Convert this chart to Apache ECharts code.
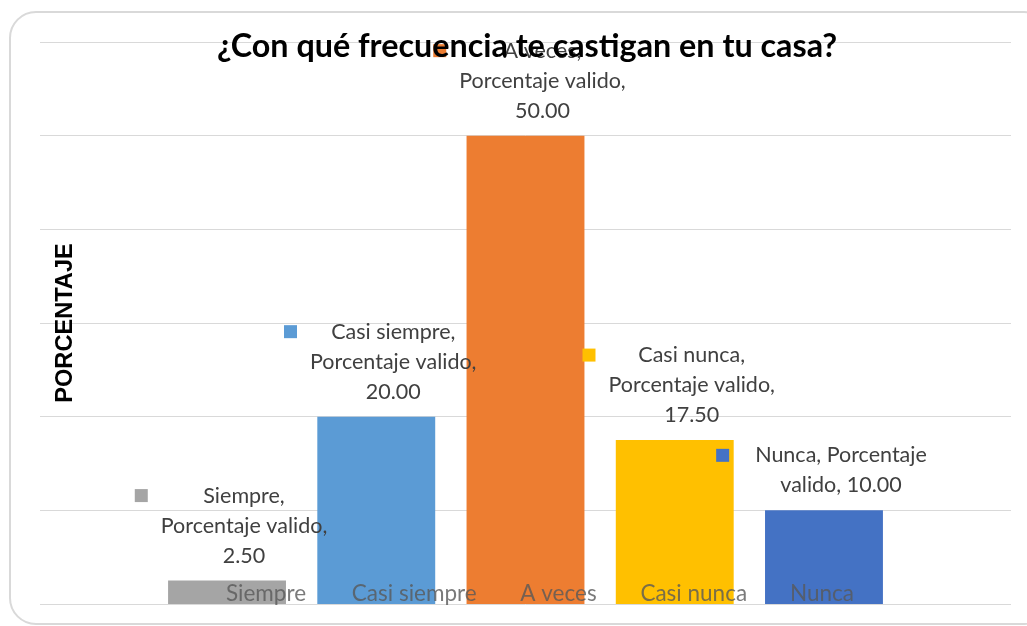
<!DOCTYPE html>
<html>
<head>
<meta charset="utf-8">
<script src="https://cdn.jsdelivr.net/npm/echarts@6/dist/echarts.min.js"></script>
<style>
  html, body { margin: 0; padding: 0; background: #fff; }
  #main { width: 1027px; height: 626px; }
</style>
</head>
<body>
<div id="main"></div>
<script>
const titleText = '¿Con qué frecuencia te castigan en tu casa?';
const yName = 'PORCENTAJE';
const seriesName = 'Porcentaje valido';
const categories = ['Siempre', 'Casi siempre', 'A veces', 'Casi nunca', 'Nunca'];
const percentValid = [2.5, 20, 50, 17.5, 10];
const yMin = 0, yMax = 60, yStep = 10;

// Office palette, one colour per bar
const barColors = ['#A5A5A5', '#5B9BD5', '#ED7D31', '#FFC000', '#4472C4'];
// Excel put the category names off-centre; horizontal shift in px
const catLabelShift = [39, 38, 33, 19, -2];

const font = 'Lato';
const chart = echarts.init(document.getElementById('main'));

const rich = {
  t: { align: 'center', padding: [0, 26], lineHeight: 30, fontSize: 21.5, fontFamily: font, color: '#404040' },
  sp: { align: 'right', width: 13, height: 13 }
};
barColors.forEach((c, i) => {
  rich['sq' + i] = { align: 'left', width: 13, height: 13, backgroundColor: c };
});

function dataLabel(p) {
  const v = p.value.toFixed(2);
  let lines = [p.name + ',', seriesName + ',', v];
  if (p.dataIndex === categories.length - 1) {
    const parts = seriesName.split(' ');
    lines = [p.name + ', ' + parts[0], parts[1] + ', ' + v];
  }
  return lines.map((l, k) => k === 0
    ? `{sq${p.dataIndex}|}{t|${l}}{sp|}`
    : `{t|${l}}`).join('\n');
}

chart.setOption({
  animation: false,
  backgroundColor: '#fff',
  title: {
    text: titleText,
    left: 522,
    textAlign: 'center',
    top: 26,
    textStyle: { fontFamily: font, fontSize: 32.3, fontWeight: 'bold', color: '#000' }
  },
  graphic: [{
    type: 'rect', silent: true, z: -10,
    shape: { x: 10, y: 12, width: 1040, height: 612, r: 26 },
    style: { fill: 'none', stroke: '#d9d9d9', lineWidth: 2 }
  }],
  grid: [
    { left: 40, right: 16, top: 42, bottom: 22 },
    { left: 152.4, right: 128.4, top: 42, bottom: 22 }
  ],
  xAxis: [
    { gridIndex: 0, type: 'value', min: 0, max: 1, show: false },
    { gridIndex: 1, type: 'category', data: categories,
      axisLine: { show: false }, axisTick: { show: false }, axisLabel: { show: false } }
  ],
  yAxis: [
    { gridIndex: 0, type: 'value', min: yMin, max: yMax, interval: yStep,
      axisLine: { show: false }, axisTick: { show: false }, axisLabel: { show: false },
      splitLine: { lineStyle: { color: '#d9d9d9', width: 1 } } },
    { gridIndex: 1, type: 'value', min: yMin, max: yMax, interval: yStep,
      axisLine: { show: false }, axisTick: { show: false }, axisLabel: { show: false },
      splitLine: { show: false },
      name: yName, nameLocation: 'middle', nameRotate: 90, nameGap: 75,
      nameTextStyle: { fontFamily: 'Liberation Sans', fontWeight: 'bold', fontSize: 23.6, color: '#000' } }
  ],
  series: [
    {
      name: seriesName,
      type: 'bar',
      xAxisIndex: 1, yAxisIndex: 1,
      barCategoryGap: '21%',
      data: percentValid.map((v, i) => ({ value: v, itemStyle: { color: barColors[i] } })),
      label: {
        show: true, position: 'top', distance: 10, offset: [17, 0],
        formatter: dataLabel, rich
      }
    },
    {
      type: 'scatter',
      xAxisIndex: 1, yAxisIndex: 1,
      symbolSize: 1, z: 5,
      itemStyle: { color: 'rgba(0,0,0,0)' },
      data: categories.map((c, i) => ({
        value: [c, 0],
        label: { offset: [catLabelShift[i], 0] }
      })),
      label: {
        show: true, position: 'top', distance: -2,
        formatter: p => p.value[0],
        fontFamily: font, fontSize: 22.5, color: '#595959'
      }
    }
  ]
});
</script>
</body>
</html>
